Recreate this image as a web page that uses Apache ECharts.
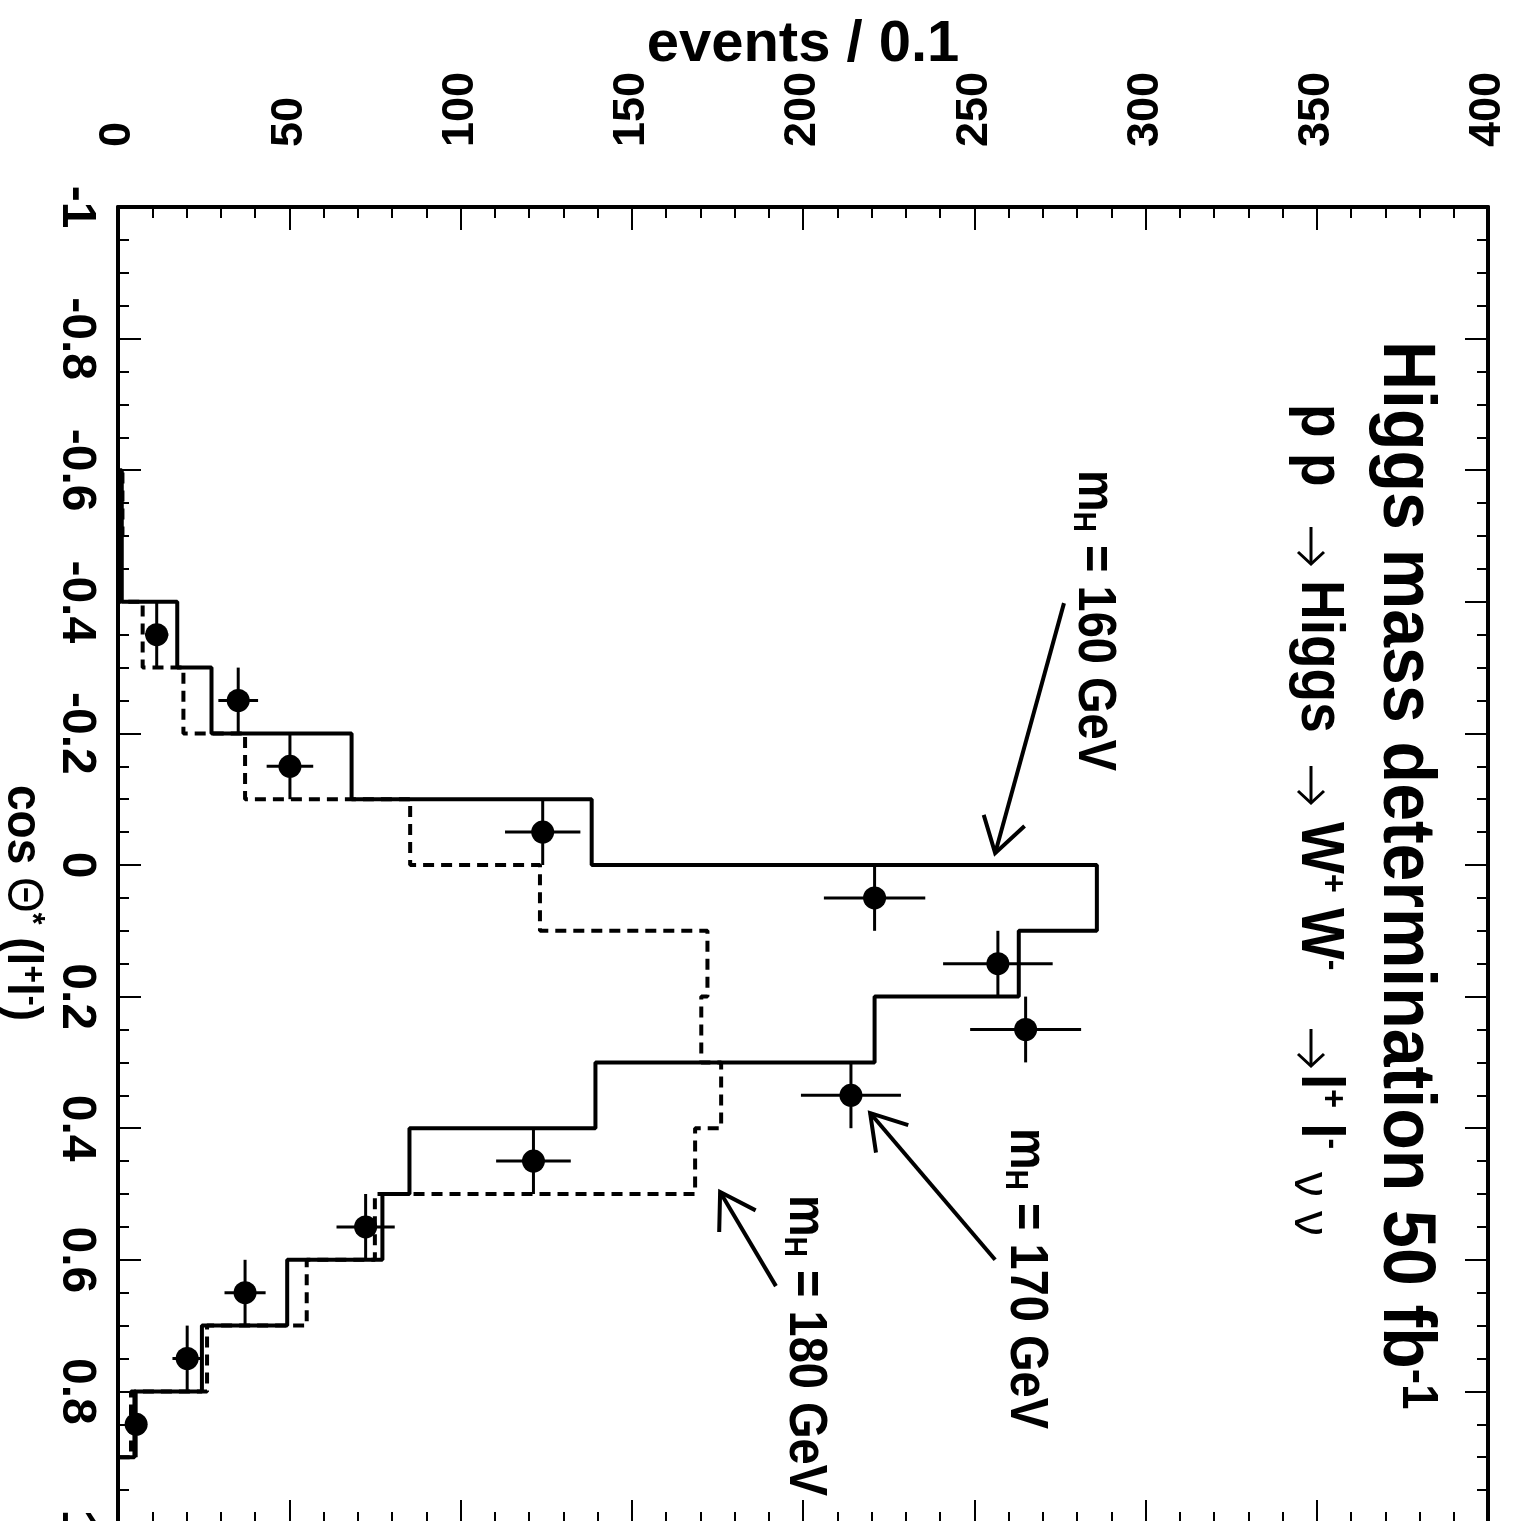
<!DOCTYPE html>
<html><head><meta charset="utf-8">
<script src="https://cdn.jsdelivr.net/npm/echarts@6/dist/echarts.min.js"></script>
<style>html,body{margin:0;padding:0;background:#fff;overflow:hidden}#c{width:1517px;height:1521px}</style>
</head><body><div id="c"></div><script>
// ---- data ----
const binLow = [-1.0,-0.9,-0.8,-0.7,-0.6,-0.5,-0.4,-0.3,-0.2,-0.1,0.0,0.1,0.2,0.3,0.4,0.5,0.6,0.7,0.8,0.9];
const binWidth = 0.1;
// m_H = 160 GeV (solid histogram)
const mh160 = [0,0,0,0,1.1,1.1,17.3,27.3,68.2,138.3,285.8,263.0,220.9,139.4,85.1,77.2,49.4,24.5,4.8,0];
// m_H = 180 GeV (dashed histogram)
const mh180 = [0,0,0,0,1.3,0,7.2,19.1,37.1,85.3,123.2,172.1,170.3,176.1,168.5,75.0,55.1,26.0,3.8,0];
// m_H = 170 GeV (data points) and their errors
const mh170 = [null,null,null,null,null,null,11.3,35.1,50.2,124.0,220.9,256.9,265.0,214.0,121.3,72.3,37.1,20.2,5.3,null];
const mh170Err = [null,null,null,null,null,null,3.4,5.8,6.8,11.0,14.8,16.0,16.2,14.6,10.9,8.5,6.0,4.3,2.3,null];
// tick labels
const eventTicks = [0,50,100,150,200,250,300,350,400];
const cosTicks = [-1,-0.8,-0.6,-0.4,-0.2,0,0.2,0.4,0.6,0.8,1];
// annotation arrows (data coordinates: [events, cos])
const arrowTail = [[276.2,-0.398],[256.1,0.600],[192.1,0.640]];
const arrowTip  = [[256.1,-0.018],[219.6,0.377],[175.8,0.497]];

const FONT = '"Liberation Sans", Arial, Helvetica, sans-serif';

function stepPoints(vals){
  const pts = [];
  for (let i = 0; i < vals.length; i++) {
    pts.push([vals[i], binLow[i]], [vals[i], binLow[i] + binWidth]);
  }
  return pts;
}
const pointData = [], errData = [];
for (let i = 0; i < mh170.length; i++) {
  if (mh170[i] == null) continue;
  const c = binLow[i] + binWidth / 2;
  pointData.push([mh170[i], c]);
  errData.push([mh170[i], c, mh170Err[i]]);
}
const arrowData = arrowTail.map((t, i) => [t[0], t[1], arrowTip[i][0], arrowTip[i][1]]);

const tickStyle = {color:'#000', width:2};
function axisCommon(extra){
  return Object.assign({
    type:'value',
    splitLine:{show:false},
    axisLine:{show:true, onZero:false, lineStyle:{color:'#000', width:4}},
    axisTick:{show:true, inside:true, length:23, lineStyle:tickStyle},
    minorTick:{show:true, length:11, lineStyle:tickStyle},
  }, extra);
}

// rotated text helper (reads top-to-bottom)
function rtext(x, y, text, fontSize, weight, family, rich, scaleY){
  return {type:'text', x:x, y:y, rotation:-Math.PI/2, scaleY:scaleY || 1.1, z:10,
    style:{text:text, fontSize:fontSize, fontWeight:weight, fontFamily:family, fill:'#000',
      align:'left', verticalAlign:'middle', rich:rich || {}}};
}
// "rightarrow" symbol of the rotated formula (points downward on screen)
function rarrow(x, y){
  return {type:'group', x:x, y:y, z:10, children:[
    {type:'line', shape:{x1:0, y1:0, x2:0, y2:37}, style:{stroke:'#000', lineWidth:3}},
    {type:'polyline', shape:{points:[[-13,25],[0,37],[13,25]]}, style:{stroke:'#000', lineWidth:3, fill:null}}
  ]};
}
const supRich = (fs) => ({sup:{fontSize:fs, fontWeight:'bold', fontFamily:FONT, verticalAlign:'top'}});
const subRich = {sub:{fontSize:28, fontWeight:'bold', fontFamily:FONT, verticalAlign:'bottom'}};

const chart = echarts.init(document.getElementById('c'), null, {renderer:'canvas'});
const option = {
  animation:false,
  backgroundColor:'#fff',
  grid:{left:118, right:29, top:207, bottom:-2, containLabel:false, outerBoundsMode:'none'},
  xAxis:[
    axisCommon({
      position:'top', min:eventTicks[0], max:eventTicks[eventTicks.length-1],
      interval:eventTicks[1]-eventTicks[0],
      minorTick:{show:true, splitNumber:5, length:11, lineStyle:tickStyle},
      axisLabel:{show:true, rotate:-90, margin:60, fontSize:45, fontWeight:'bold', fontFamily:FONT, color:'#000',
        showMinLabel:true, showMaxLabel:true},
      name:'events / 0.1', nameLocation:'middle', nameGap:133, nameMoveOverlap:false,
      nameTextStyle:{fontSize:58, fontWeight:'bold', fontFamily:FONT, color:'#000'}
    }),
    axisCommon({
      position:'bottom', min:eventTicks[0], max:eventTicks[eventTicks.length-1],
      interval:eventTicks[1]-eventTicks[0],
      minorTick:{show:true, splitNumber:5, length:11, lineStyle:tickStyle},
      axisLabel:{show:false}
    })
  ],
  yAxis:[
    axisCommon({
      position:'left', inverse:true, min:cosTicks[0], max:cosTicks[cosTicks.length-1],
      interval:0.2,
      minorTick:{show:true, splitNumber:4, length:11, lineStyle:tickStyle},
      axisLabel:{show:true, rotate:-90, margin:18, fontSize:48, fontWeight:'bold', fontFamily:FONT, color:'#000',
        showMinLabel:true, showMaxLabel:true}
    }),
    axisCommon({
      position:'right', inverse:true, min:cosTicks[0], max:cosTicks[cosTicks.length-1],
      interval:0.2,
      minorTick:{show:true, splitNumber:4, length:11, lineStyle:tickStyle},
      axisLabel:{show:false}
    })
  ],
  series:[
    {type:'line', name:'mH=180', data:stepPoints(mh180), showSymbol:false, symbol:'none', clip:false,
      lineStyle:{color:'#000', width:4, type:[11,7]}, z:2},
    {type:'line', name:'mH=160', data:stepPoints(mh160), showSymbol:false, symbol:'none', clip:false,
      lineStyle:{color:'#000', width:4}, z:3},
    {type:'custom', name:'err', data:errData, encode:{x:0, y:1}, z:4,
      renderItem:function(params, api){
        const v = api.value(0), c = api.value(1), e = api.value(2);
        const l = api.coord([v - e, c]), r = api.coord([v + e, c]);
        const t = api.coord([v, c - binWidth/2]), b = api.coord([v, c + binWidth/2]);
        return {type:'group', children:[
          {type:'line', shape:{x1:l[0], y1:l[1], x2:r[0], y2:r[1]}, style:{stroke:'#000', lineWidth:3}},
          {type:'line', shape:{x1:t[0], y1:t[1], x2:b[0], y2:b[1]}, style:{stroke:'#000', lineWidth:3}}
        ]};
      }},
    {type:'scatter', name:'mH=170', data:pointData, symbol:'circle', symbolSize:23,
      itemStyle:{color:'#000', opacity:1}, z:5},
    {type:'custom', name:'arrows', data:arrowData, encode:{x:[0,2], y:[1,3]}, z:6,
      renderItem:function(params, api){
        const a = api.coord([api.value(0), api.value(1)]);
        const b = api.coord([api.value(2), api.value(3)]);
        const ang = Math.atan2(a[1]-b[1], a[0]-b[0]);
        const L = 40, h = 32*Math.PI/180;
        const p1 = [b[0]+L*Math.cos(ang+h), b[1]+L*Math.sin(ang+h)];
        const p2 = [b[0]+L*Math.cos(ang-h), b[1]+L*Math.sin(ang-h)];
        return {type:'group', children:[
          {type:'line', shape:{x1:a[0], y1:a[1], x2:b[0], y2:b[1]}, style:{stroke:'#000', lineWidth:4}},
          {type:'polyline', shape:{points:[p1, b, p2]}, style:{stroke:'#000', lineWidth:4, fill:null}}
        ]};
      }}
  ],
  graphic:[
    rtext(1405, 341, 'Higgs mass determination 50 fb{sup|-1}', 68, 'bold', FONT, supRich(46)),
    rtext(1319, 404, 'p p', 55, 'bold', FONT),
    rarrow(1311, 527),
    rtext(1319, 580, 'Higgs', 55, 'bold', FONT),
    rarrow(1311, 766),
    rtext(1319, 822, 'W{sup|+} W{sup|-}', 55, 'bold', FONT, supRich(32)),
    rarrow(1311, 1029),
    rtext(1319, 1074, 'l{sup|+} l{sup|-}', 55, 'bold', FONT, supRich(32)),
    rtext(1309, 1172, '\u03bd \u03bd', 50, 'normal', FONT, null, 1.0),
    rtext(22, 785, 'cos {th|\u0398}{sup|*} (l{sup|+}l{sup|-})', 46, 'bold', FONT,
      {th:{fontSize:46, fontWeight:'normal', fontFamily:FONT},
       sup:{fontSize:30, fontWeight:'bold', fontFamily:FONT, verticalAlign:'top'}}),
    rtext(1094, 470, 'm{sub|H} = 160 GeV', 47, 'bold', FONT, subRich, 1.15),
    rtext(1026, 1128, 'm{sub|H} = 170 GeV', 47, 'bold', FONT, subRich, 1.15),
    rtext(805, 1195, 'm{sub|H} = 180 GeV', 47, 'bold', FONT, subRich, 1.15)
  ]
};
chart.setOption(option);
</script></body></html>
